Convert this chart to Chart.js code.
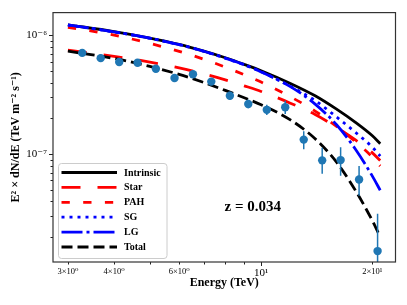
<!DOCTYPE html>
<html>
<head>
<meta charset="utf-8">
<title>E2 dN/dE, z = 0.034</title>
<script src="https://cdn.jsdelivr.net/npm/chart.js@4.4.0/dist/chart.umd.min.js"></script>
<style>
  html, body { margin: 0; padding: 0; background: #fff; }
  #chart { display: block; }
</style>
</head>
<body>
<canvas id="chart" width="407" height="305"></canvas>
<script>
// ==========================
// DATA
// ==========================
const energy = [3, 4, 5, 6, 7, 8, 9, 10, 12, 14, 16, 18, 20, 21];

const intrinsic = [1.228e-6, 1.076e-6, 0.950e-6, 0.840e-6, 0.737e-6, 0.648e-6, 0.570e-6, 0.504e-6, 0.394e-6, 0.310e-6, 0.239e-6, 0.185e-6, 0.1426e-6, 0.1224e-6];
const star      = [0.750e-6, 0.666e-6, 0.596e-6, 0.533e-6, 0.474e-6, 0.4224e-6, 0.376e-6, 0.337e-6, 0.2686e-6, 0.2154e-6, 0.1685e-6, 0.1316e-6, 0.1025e-6, 0.0883e-6];
const pah       = [1.170e-6, 1.006e-6, 0.855e-6, 0.734e-6, 0.629e-6, 0.540e-6, 0.466e-6, 0.4043e-6, 0.304e-6, 0.2304e-6, 0.1711e-6, 0.1271e-6, 0.0944e-6, 0.0794e-6];
const sg        = [1.221e-6, 1.070e-6, 0.944e-6, 0.835e-6, 0.733e-6, 0.643e-6, 0.565e-6, 0.4945e-6, 0.3723e-6, 0.282e-6, 0.2054e-6, 0.1525e-6, 0.1144e-6, 0.0962e-6];
const lg        = [1.224e-6, 1.072e-6, 0.946e-6, 0.837e-6, 0.735e-6, 0.644e-6, 0.567e-6, 0.492e-6, 0.370e-6, 0.264e-6, 0.1768e-6, 0.110e-6, 0.0653e-6, 0.0496e-6];
const total     = [0.736e-6, 0.639e-6, 0.548e-6, 0.469e-6, 0.401e-6, 0.344e-6, 0.298e-6, 0.2605e-6, 0.1943e-6, 0.1346e-6, 0.0855e-6, 0.0494e-6, 0.0275e-6, 0.0201e-6];

// observed points + error bars
const obsE  = [3.28, 3.68, 4.13, 4.63, 5.19, 5.83, 6.54, 7.33, 8.23, 9.23, 10.36, 11.62, 13.04, 14.63, 16.41, 18.41, 20.66];
const obsF  = [0.712e-6, 0.643e-6, 0.596e-6, 0.588e-6, 0.524e-6, 0.438e-6, 0.470e-6, 0.408e-6, 0.310e-6, 0.2646e-6, 0.236e-6, 0.248e-6, 0.1325e-6, 0.0886e-6, 0.0891e-6, 0.0611e-6, 0.01526e-6];
const obsLo = [0.69e-6, 0.62e-6, 0.575e-6, 0.565e-6, 0.50e-6, 0.416e-6, 0.447e-6, 0.386e-6, 0.286e-6, 0.243e-6, 0.214e-6, 0.2175e-6, 0.110e-6, 0.0685e-6, 0.0656e-6, 0.0447e-6, 0.0118e-6];
const obsHi = [0.735e-6, 0.665e-6, 0.617e-6, 0.61e-6, 0.546e-6, 0.46e-6, 0.494e-6, 0.43e-6, 0.335e-6, 0.287e-6, 0.261e-6, 0.282e-6, 0.1555e-6, 0.1129e-6, 0.1144e-6, 0.0794e-6, 0.03144e-6];

// axes
const xMin = 2.734, xMax = 23.1;
const yMin = 1.235e-8, yMax = 1.555e-6;
const xTicks = [3, 4, 5, 6, 7, 8, 9, 10, 20];
const xTickLabels = ['3×10⁰', '4×10⁰', '', '6×10⁰', '', '', '', '10¹', '2×10¹'];
const xMajor = [10];
const yTicks = [2e-8, 3e-8, 4e-8, 5e-8, 6e-8, 7e-8, 8e-8, 9e-8, 1e-7, 2e-7, 3e-7, 4e-7, 5e-7, 6e-7, 7e-7, 8e-7, 9e-7, 1e-6];
const yMajor = [1e-7, 1e-6];
const yMajorLabels = ['10⁻⁷', '10⁻⁶'];

const zText = 'z = 0.034';
const zPos = [9.49, 3.55e-8];

const SERIF = "'Liberation Serif', 'DejaVu Serif', serif";

// ==========================
// HELPERS
// ==========================
function pairs(xs, ys) {
  return xs.map((x, i) => ({ x: x, y: ys[i] }));
}

function curve(label, values, color, dash, order) {
  return {
    label: label,
    data: pairs(energy, values),
    borderColor: color,
    borderWidth: 2.8,
    borderDash: dash,
    pointRadius: 0,
    fill: false,
    cubicInterpolationMode: 'monotone',
    order: order
  };
}

// ==========================
// PLUGINS
// ==========================
// khung + vạch chia kiểu matplotlib
const frameTicks = {
  id: 'frameTicks',
  afterDraw(chart) {
    const { ctx, chartArea: a, scales: { x, y } } = chart;
    ctx.save();
    ctx.strokeStyle = '#222';
    ctx.lineWidth = 1;
    ctx.beginPath();
    x.ticks.forEach(t => {
      const px = Math.round(x.getPixelForValue(t.value)) + 0.5;
      const len = xMajor.includes(t.value) ? 4 : 2.5;
      ctx.moveTo(px, a.bottom);
      ctx.lineTo(px, a.bottom + len);
    });
    y.ticks.forEach(t => {
      const py = Math.round(y.getPixelForValue(t.value)) + 0.5;
      const len = yMajor.includes(t.value) ? 4 : 2.5;
      ctx.moveTo(a.left, py);
      ctx.lineTo(a.left - len, py);
    });
    ctx.stroke();
    ctx.strokeStyle = '#333';
    ctx.lineWidth = 1.2;
    ctx.strokeRect(a.left, a.top, a.right - a.left, a.bottom - a.top);
    ctx.restore();
  }
};

// thanh sai số vẽ ngay trước các điểm đo
const errorBars = {
  id: 'errorBars',
  beforeDatasetDraw(chart, args) {
    const ds = chart.data.datasets[args.index];
    if (!ds.isObs) return;
    const { ctx, chartArea: a, scales: { x, y } } = chart;
    ctx.save();
    ctx.beginPath();
    ctx.rect(a.left, a.top, a.right - a.left, a.bottom - a.top);
    ctx.clip();
    ctx.strokeStyle = '#1f77b4';
    ctx.lineWidth = 1.5;
    ctx.beginPath();
    obsE.forEach((e, i) => {
      const px = x.getPixelForValue(e);
      ctx.moveTo(px, y.getPixelForValue(obsLo[i]));
      ctx.lineTo(px, y.getPixelForValue(obsHi[i]));
    });
    ctx.stroke();
    ctx.restore();
  }
};

// legend đóng khung bên trong vùng vẽ
const boxLegend = {
  id: 'boxLegend',
  afterDatasetsDraw(chart) {
    const { ctx, chartArea: a } = chart;
    const items = chart.data.datasets.filter(d => d.label);
    const bx = a.left + 5.5, by = a.bottom - 98.5, bw = 108.5, bh = 95;
    ctx.save();
    ctx.fillStyle = 'rgba(255,255,255,0.85)';
    ctx.strokeStyle = '#cccccc';
    ctx.lineWidth = 1;
    ctx.beginPath();
    if (ctx.roundRect) ctx.roundRect(bx, by, bw, bh, 3);
    else ctx.rect(bx, by, bw, bh);
    ctx.fill();
    ctx.stroke();

    ctx.font = 'bold 10px ' + SERIF;
    ctx.textBaseline = 'middle';
    ctx.textAlign = 'left';
    items.forEach((d, i) => {
      const ry = by + 9 + i * 14.9;
      ctx.strokeStyle = d.borderColor;
      ctx.lineWidth = d.borderWidth;
      ctx.setLineDash(d.borderDash || []);
      ctx.beginPath();
      ctx.moveTo(bx + 3, ry);
      ctx.lineTo(bx + 58.5, ry);
      ctx.stroke();
      ctx.setLineDash([]);
      ctx.fillStyle = '#000';
      ctx.fillText(d.label, bx + 65.5, ry + 0.5);
    });
    ctx.restore();
  }
};

const zLabel = {
  id: 'zLabel',
  afterDatasetsDraw(chart) {
    const { ctx, scales: { x, y } } = chart;
    ctx.save();
    ctx.font = 'bold 15px ' + SERIF;
    ctx.fillStyle = '#000';
    ctx.textAlign = 'center';
    ctx.textBaseline = 'middle';
    ctx.fillText(zText, x.getPixelForValue(zPos[0]), y.getPixelForValue(zPos[1]));
    ctx.restore();
  }
};

// ==========================
// CHART
// ==========================
const obsSet = {
  type: 'scatter',
  isObs: true,
  data: pairs(obsE, obsF),
  backgroundColor: '#1f77b4',
  borderColor: '#1f77b4',
  pointRadius: 4.2,
  pointBorderWidth: 0,
  showLine: false,
  order: 0
};

// thứ tự legend: Intrinsic ... Total (order lớn = vẽ trước)
const datasets = [
  curve('Intrinsic', intrinsic, '#000000', [], 6),
  curve('Star', star, '#ff0000', [19, 17], 5),
  curve('PAH', pah, '#ff0000', [8.3, 13.4], 4),
  curve('SG', sg, '#0000ff', [3, 5], 3),
  curve('LG', lg, '#0000ff', [21, 4, 3, 4], 2),
  curve('Total', total, '#000000', [11, 5], 1),
  obsSet
];

const chart = new Chart(document.getElementById('chart'), {
  type: 'line',
  data: { datasets: datasets },
  options: {
    responsive: false,
    animation: false,
    devicePixelRatio: 1,
    layout: { padding: { top: 10, right: 11.5, left: 0, bottom: 0 } },
    plugins: {
      legend: { display: false },
      tooltip: { enabled: false }
    },
    scales: {
      x: {
        type: 'logarithmic',
        min: xMin,
        max: xMax,
        grid: { display: false, drawTicks: false },
        border: { display: false },
        afterBuildTicks: (scale) => { scale.ticks = xTicks.map(v => ({ value: v })); },
        afterFit: (scale) => { scale.height = 43; },
        ticks: {
          autoSkip: false,
          maxRotation: 0,
          padding: 5,
          color: '#000',
          font: (c) => ({ family: SERIF, size: c.tick && c.tick.value === 10 ? 11 : 8.5 }),
          callback: (v, i) => xTickLabels[i]
        },
        title: {
          display: true,
          text: 'Energy (TeV)',
          color: '#000',
          font: { family: SERIF, size: 12, weight: 'bold' },
          padding: { top: 0, bottom: 14.5 }
        }
      },
      y: {
        type: 'logarithmic',
        min: yMin,
        max: yMax,
        grid: { display: false, drawTicks: false },
        border: { display: false },
        afterBuildTicks: (scale) => { scale.ticks = yTicks.map(v => ({ value: v })); },
        afterFit: (scale) => { scale.width = 53; },
        ticks: {
          autoSkip: false,
          padding: 6,
          color: '#000',
          font: { family: SERIF, size: 11 },
          callback: (v) => {
            const k = yMajor.indexOf(v);
            return k >= 0 ? yMajorLabels[k] : '';
          }
        },
        title: {
          display: true,
          text: 'E² × dN/dE (TeV m⁻² s⁻¹)',
          color: '#000',
          font: { family: SERIF, size: 12, weight: 'bold' },
          padding: { top: 8.5, bottom: 0 }
        }
      }
    }
  },
  plugins: [errorBars, boxLegend, zLabel, frameTicks]
});
</script>
</body>
</html>
